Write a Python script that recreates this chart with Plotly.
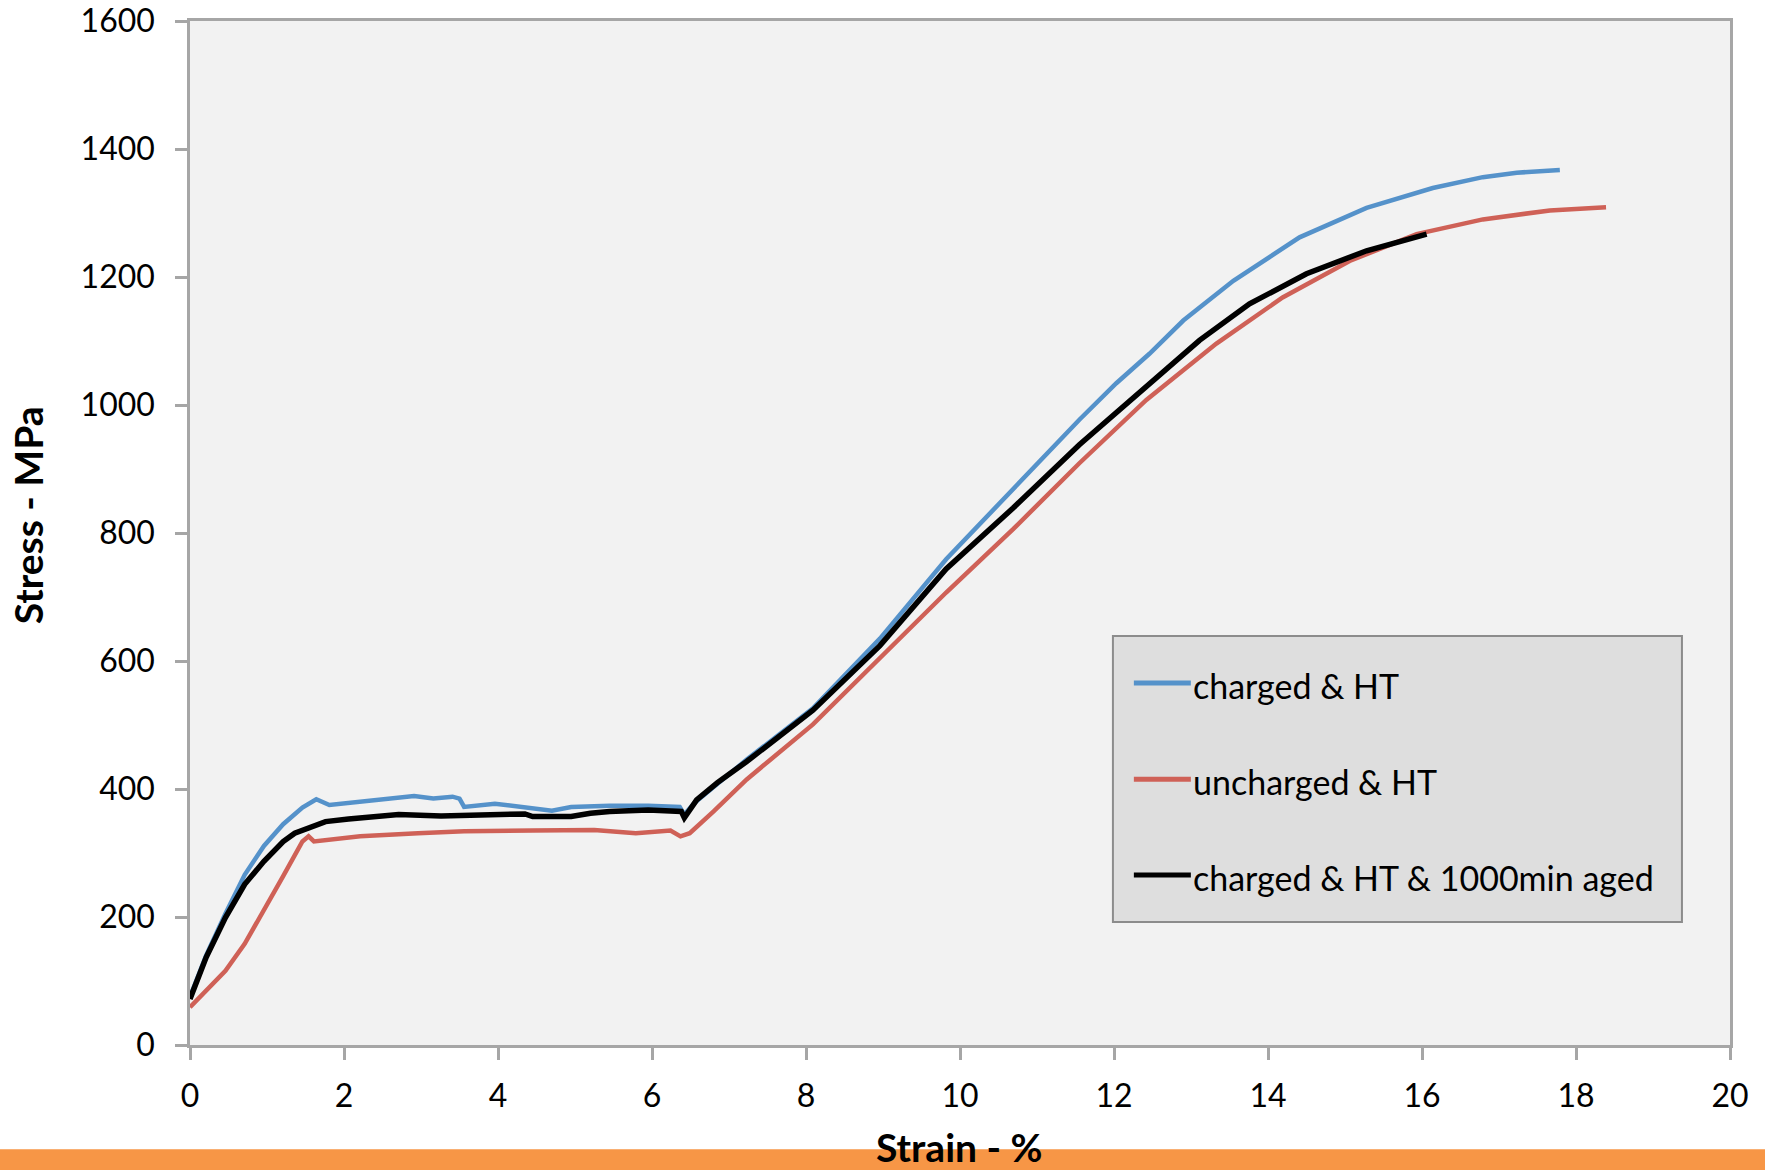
import plotly.graph_objects as go

# ---- data ----
blue_name = "charged & HT"
blue_x = [0, 0.21, 0.46, 0.71, 0.96, 1.21, 1.46, 1.64, 1.81, 2.06, 2.46, 2.91, 3.16, 3.41, 3.50,
          3.56, 3.96, 4.45, 4.70, 4.95, 5.45, 5.95, 6.36, 6.42, 6.55, 6.85, 7.23, 8.09, 8.96,
          9.82, 10.69, 11.55, 12.03, 12.46, 12.90, 13.55, 14.41, 15.28, 16.14, 16.79, 17.23, 17.79]
blue_y = [75, 140, 205, 266, 311, 345, 371, 384, 375, 378, 383, 389, 385, 388, 385,
          372, 377, 370, 366, 372, 374, 374, 372, 360, 378, 408, 446, 526, 635,
          759, 868, 977, 1034, 1080, 1132, 1194, 1262, 1308, 1339, 1356, 1363, 1367]

red_name = "uncharged & HT"
red_x = [0, 0.21, 0.46, 0.71, 0.96, 1.21, 1.46, 1.54, 1.61, 1.81, 2.21, 2.96, 3.56, 4.45, 5.25,
         5.79, 6.24, 6.37, 6.49, 6.80, 7.23, 8.09, 8.96, 9.82, 10.69, 11.55, 12.42, 13.33,
         14.19, 15.06, 15.93, 16.79, 17.66, 18.39]
red_y = [59, 85, 116, 158, 210, 264, 318, 326, 318, 321, 326, 331, 334, 335, 336,
         331, 335, 326, 331, 365, 415, 501, 604, 707, 806, 909, 1008, 1096,
         1168, 1225, 1267, 1290, 1304, 1309]

black_name = "charged & HT & 1000min aged"
black_x = [0, 0.21, 0.46, 0.71, 0.96, 1.21, 1.36, 1.56, 1.76, 2.06, 2.46, 2.71, 3.26, 3.96, 4.35,
           4.45, 4.95, 5.20, 5.45, 5.95, 6.30, 6.38, 6.42, 6.48, 6.58, 6.85, 7.23, 8.09, 8.96,
           9.82, 10.69, 11.55, 12.42, 13.11, 13.76, 14.50, 15.28, 16.06]
black_y = [72, 137, 199, 251, 287, 318, 331, 339, 349, 353, 357, 360, 358, 360, 361,
           357, 357, 362, 365, 367, 367, 365, 355, 365, 383, 410, 443, 523, 624,
           744, 839, 938, 1029, 1101, 1158, 1205, 1241, 1267]

x_ticks = [0, 2, 4, 6, 8, 10, 12, 14, 16, 18, 20]
y_ticks = [0, 200, 400, 600, 800, 1000, 1200, 1400, 1600]
x_title = "Strain - %"
y_title = "Stress - MPa"

# ---- styles ----
BLUE = "#5592CA"
RED = "#CF6157"
BLACK = "#000000"
AXIS = "#A6A6A6"
FONT = "Lato"

series = [
    (blue_name, blue_x, blue_y, BLUE, 4.5),
    (red_name, red_x, red_y, RED, 4.5),
    (black_name, black_x, black_y, BLACK, 5.5),
]

fig = go.Figure()
for name, xs, ys, col, w in series:
    fig.add_trace(go.Scatter(x=xs, y=ys, mode="lines", name=name,
                             line=dict(color=col, width=w), showlegend=False))

axis_common = dict(
    showgrid=False, zeroline=False, showline=True, linecolor=AXIS, linewidth=2.5,
    mirror=True, ticks="outside", ticklen=12, tickwidth=2.5, tickcolor=AXIS,
    tickfont=dict(family=FONT, size=32, color="#000000"),
    ticklabeloverflow="allow", automargin=False,
)

fig.update_layout(
    width=1765, height=1170,
    margin=dict(l=190, r=35, t=21, b=125),
    paper_bgcolor="#FFFFFF",
    plot_bgcolor="#F2F2F2",
    xaxis=dict(range=[0, 20], tickvals=x_ticks, ticklabelstandoff=9, **axis_common),
    yaxis=dict(range=[0, 1600], tickvals=y_ticks, ticklabelstandoff=14, **axis_common),
    showlegend=False,
)

# orange band along the bottom of the page
fig.add_shape(type="rect", xref="paper", yref="paper", x0=-0.2, x1=1.1,
              y0=-0.1223, y1=-0.1018, fillcolor="#F79646", line_width=0, layer="below")

# axis titles
fig.add_annotation(text=y_title, xref="paper", yref="paper", x=-0.1054, y=0.517,
                   textangle=-90, showarrow=False, xanchor="center", yanchor="middle",
                   font=dict(family=FONT, size=39, color="#000000", weight="bold"))
fig.add_annotation(text=x_title, xref="paper", yref="paper", x=0.4994, y=-0.1228,
                   showarrow=False, xanchor="center", yanchor="bottom", borderpad=0,
                   font=dict(family=FONT, size=39, color="#000000", weight="bold"))

# legend box
fig.add_shape(type="rect", xref="paper", yref="paper", x0=0.5993, x1=0.9688,
              y0=0.1201, y1=0.3995, fillcolor="#DEDEDE",
              line=dict(color="#8C8C8C", width=2))
row_y = [0.3534, 0.2596, 0.1660]
for (name, xs, ys, col, w), ry in zip(series, row_y):
    fig.add_shape(type="line", xref="paper", yref="paper", x0=0.6129, x1=0.6499,
                  y0=ry, y1=ry, line=dict(color=col, width=5))
    fig.add_annotation(text=name, xref="paper", yref="paper", x=0.6500, y=ry - 0.002,
                       showarrow=False, xanchor="left", yanchor="middle",
                       font=dict(family=FONT, size=34, color="#000000"))

fig.write_html("out.html", config={"displayModeBar": False},
               post_script="document.body.style.margin='0px';")
